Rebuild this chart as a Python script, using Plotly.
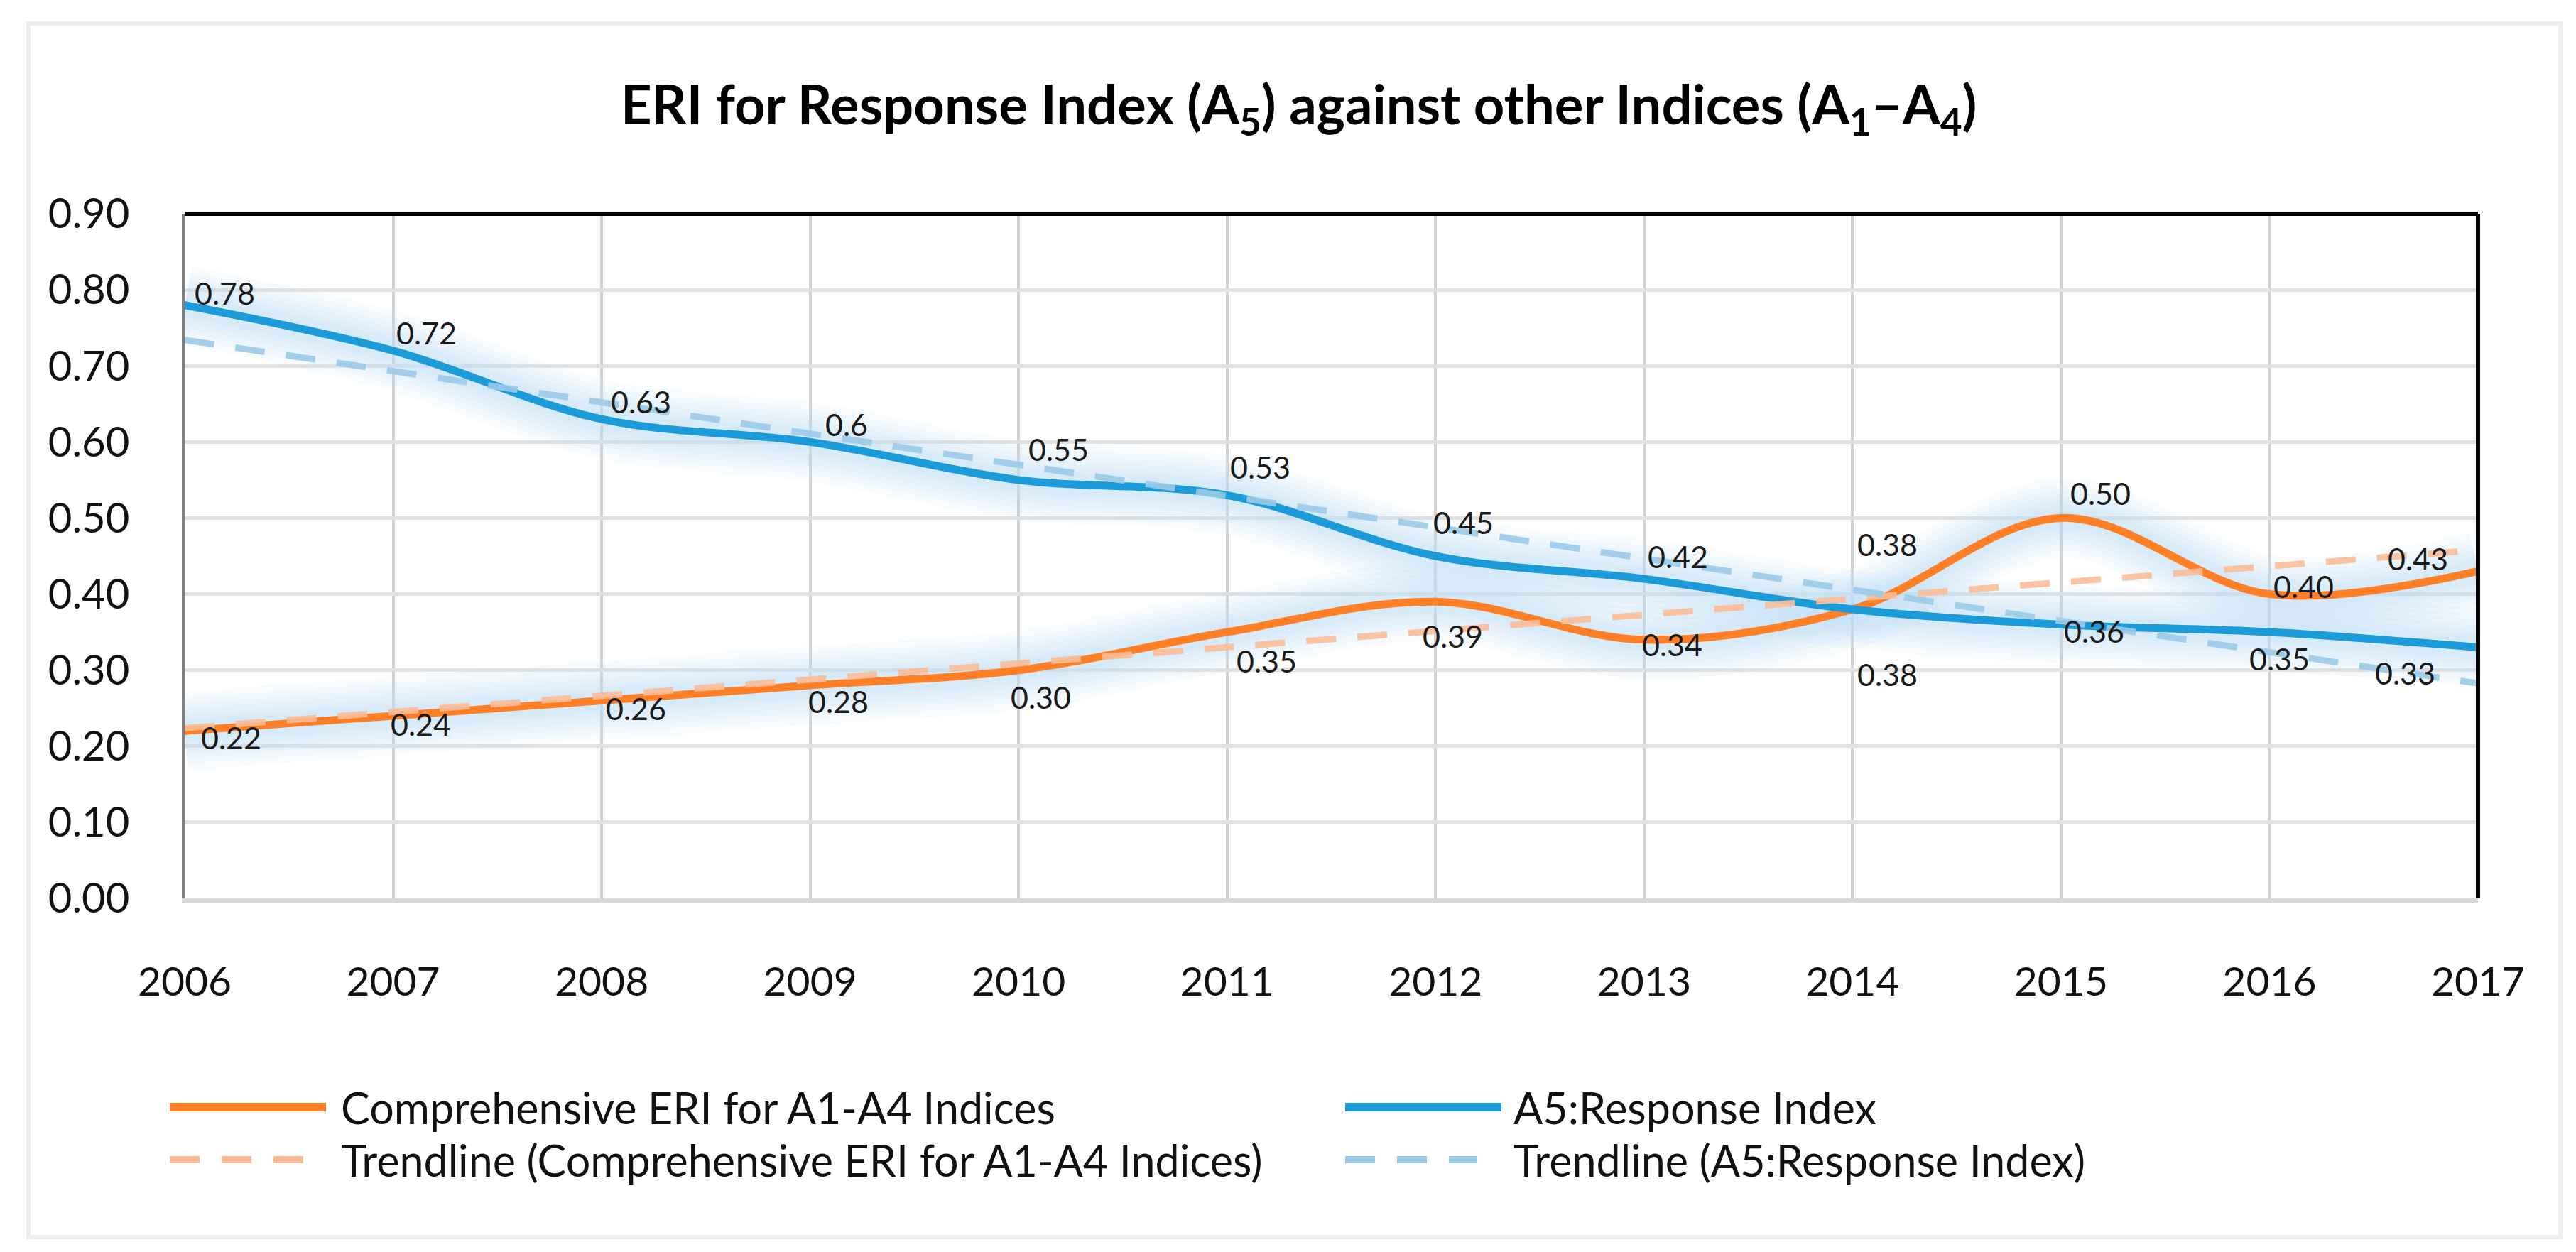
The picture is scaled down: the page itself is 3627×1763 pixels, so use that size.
import numpy as np
import plotly.graph_objects as go

# ---------------- data ----------------
years = [2006, 2007, 2008, 2009, 2010, 2011, 2012, 2013, 2014, 2015, 2016, 2017]
eri_values = [0.22, 0.24, 0.26, 0.28, 0.30, 0.35, 0.39, 0.34, 0.38, 0.50, 0.40, 0.43]
a5_values = [0.78, 0.72, 0.63, 0.60, 0.55, 0.53, 0.45, 0.42, 0.38, 0.36, 0.35, 0.33]
eri_labels = ["0.22", "0.24", "0.26", "0.28", "0.30", "0.35", "0.39", "0.34", "0.38", "0.50", "0.40", "0.43"]
a5_labels = ["0.78", "0.72", "0.63", "0.6", "0.55", "0.53", "0.45", "0.42", "0.38", "0.36", "0.35", "0.33"]
y_tick_values = [0.0, 0.1, 0.2, 0.3, 0.4, 0.5, 0.6, 0.7, 0.8, 0.9]
y_tick_labels = ["0.00", "0.10", "0.20", "0.30", "0.40", "0.50", "0.60", "0.70", "0.80", "0.90"]

name_eri = "Comprehensive ERI for A1-A4 Indices"
name_a5 = "A5:Response Index"
name_eri_trend = "Trendline (Comprehensive ERI for A1-A4 Indices)"
name_a5_trend = "Trendline (A5:Response Index)"
title_text = "<b>ERI for Response Index (A<sub>5</sub>) against other Indices (A<sub>1</sub>–A<sub>4</sub>)</b>"

# ---------------- styling ----------------
W, H = 3627, 1763
PL, PR, PT, PB = 252, 3481, 293, 1257
FONT = "Lato"
ORANGE = "#ff7f27"
BLUE = "#1b9bd7"
ORANGE_TREND = "#fbbd98"
BLUE_TREND = "#9ccbea"
GLOW = "rgba(190,226,250,0.13)"

# label offsets in pixels (xshift, yshift)
eri_offsets = [(65, -9), (39, -12), (48, -11), (40, -22), (31, -38), (56, -40),
               (24, -48), (40, -7), (49, 91), (56, 35), (48, 11), (-85, 18)]
a5_offsets = [(56, 17), (47, 25), (55, 25), (51, 25), (56, 43), (47, 40),
              (39, 48), (48, 32), (49, -92), (47, -9), (14, -37), (-103, -36)]


def px_x(px):
    return (px - PL) / (PR - PL)


def px_y(py):
    return (PB - py) / (PB - PT)


fig = go.Figure()

# soft glow underneath main lines
for vals in (eri_values, a5_values):
    for w in (110, 92, 76, 62, 48, 36, 26):
        fig.add_trace(go.Scatter(x=years, y=vals, mode="lines",
                                 line=dict(color=GLOW, width=w, shape="spline", smoothing=1.0),
                                 hoverinfo="skip", showlegend=False))

fig.add_trace(go.Scatter(x=years, y=eri_values, mode="lines", name=name_eri,
                         line=dict(color=ORANGE, width=11, shape="spline", smoothing=1.0),
                         showlegend=False))
fig.add_trace(go.Scatter(x=years, y=a5_values, mode="lines", name=name_a5,
                         line=dict(color=BLUE, width=11, shape="spline", smoothing=1.0),
                         showlegend=False))

# linear trendlines (least squares, as the chart's trendline)
for vals, col, nm in ((eri_values, ORANGE_TREND, name_eri_trend), (a5_values, BLUE_TREND, name_a5_trend)):
    k, b = np.polyfit(years, vals, 1)
    tx = [years[0], years[-1]]
    ty = [k * t + b for t in tx]
    fig.add_trace(go.Scatter(x=tx, y=ty, mode="lines", name=nm, opacity=0.9,
                             line=dict(color=col, width=9, dash="42px,30px"),
                             showlegend=False))

annotations = []
for vals, labs, offs in ((eri_values, eri_labels, eri_offsets), (a5_values, a5_labels, a5_offsets)):
    for xv, yv, lab, (dx, dy) in zip(years, vals, labs, offs):
        annotations.append(dict(x=xv, y=yv, xref="x", yref="y", text=lab, showarrow=False,
                                xanchor="center", yanchor="middle", xshift=dx, yshift=dy,
                                font=dict(family=FONT, size=43, color="#1a1a1a")))

# custom legend
shapes = []
row1, row2 = 1551, 1625
legend_items = [
    (231, 451, row1, ORANGE, "solid", 12, 470, name_eri),
    (1886, 2106, row1, BLUE, "solid", 12, 2121, name_a5),
    (231, 419, row2, ORANGE_TREND, "42px,31px", 10, 470, name_eri_trend),
    (1886, 2072, row2, BLUE_TREND, "42px,31px", 10, 2121, name_a5_trend),
]
for x0, x1, yy, col, dash, lw, tx, txt in legend_items:
    shapes.append(dict(type="line", xref="paper", yref="paper",
                       x0=px_x(x0), x1=px_x(x1), y0=px_y(yy), y1=px_y(yy),
                       line=dict(color=col, width=lw, dash=dash)))
    annotations.append(dict(x=px_x(tx), y=px_y(yy), xref="paper", yref="paper", text=txt,
                            showarrow=False, xanchor="left", yanchor="middle",
                            font=dict(family=FONT, size=61, color="#111111")))

# plot borders: top and right black
shapes.append(dict(type="line", xref="paper", yref="paper", x0=0, x1=1, y0=1, y1=1,
                   line=dict(color="black", width=6)))
shapes.append(dict(type="line", xref="paper", yref="paper", x0=1, x1=1, y0=0, y1=1,
                   line=dict(color="black", width=6)))
# outer frame
shapes.append(dict(type="rect", xref="paper", yref="paper",
                   x0=px_x(32), x1=px_x(3597), y0=px_y(1734), y1=px_y(25),
                   line=dict(color="#eeeeee", width=6), fillcolor="rgba(0,0,0,0)", layer="below"))

fig.update_layout(
    width=W, height=H,
    margin=dict(l=PL, r=W - PR, t=PT, b=H - PB, pad=0),
    paper_bgcolor="white", plot_bgcolor="white",
    font=dict(family=FONT, color="#111111"),
    title=dict(text=title_text, x=0.502, xref="container", xanchor="center",
               y=1 - 140 / H, yref="container", yanchor="middle",
               font=dict(family=FONT, size=76, color="black")),
    showlegend=False,
    annotations=annotations,
    shapes=shapes,
)
fig.update_xaxes(range=[years[0], years[-1]], tickvals=years, ticktext=[str(y) for y in years],
                 showgrid=True, gridcolor="#d2d2d2", gridwidth=4,
                 showline=True, linecolor="#d9d9d9", linewidth=7,
                 ticks="", ticklabelstandoff=62, zeroline=False,
                 tickfont=dict(family=FONT, size=57, color="#111111"))
fig.update_yaxes(range=[0, 0.9], tickvals=y_tick_values, ticktext=y_tick_labels,
                 showgrid=True, gridcolor="#e2e2e2", gridwidth=5,
                 showline=True, linecolor="#808080", linewidth=4,
                 ticks="", ticklabelstandoff=62, zeroline=False,
                 tickfont=dict(family=FONT, size=58, color="#111111"))

fig.write_html("out.html")
